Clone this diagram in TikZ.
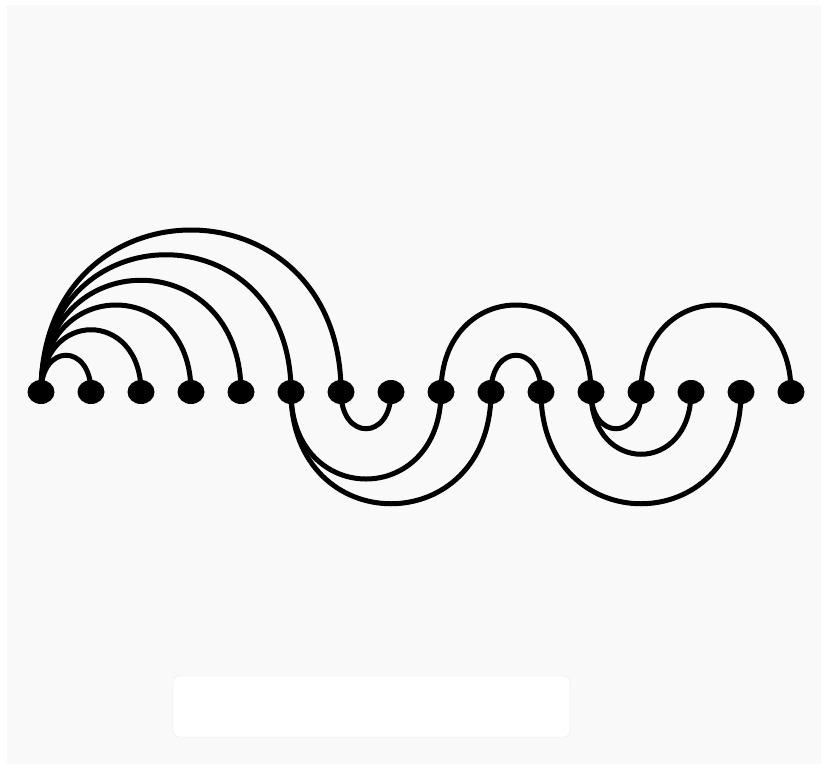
\documentclass[tikz,border=0pt]{standalone}
\usetikzlibrary{shapes.geometric}
\definecolor{paper}{RGB}{249,249,249}
\definecolor{boxline}{RGB}{232,232,232}
\begin{document}
\begin{tikzpicture}[
    x=1pt, y=-1pt,
    dot/.style={ellipse, fill=black, inner sep=0pt, minimum width=27pt, minimum height=24pt},
    link/.style={line width=5pt, black},
]
    % Canvas
    \useasboundingbox (0,0) rectangle (826,768);
    \fill[white] (0,0) rectangle (826,768);
    \fill[paper] (7,5) rectangle (821,764);
    \filldraw[fill=white, draw=boxline, rounded corners=6pt] (173,676) rectangle (570,737);

    % Vertices on the line
    \foreach \i in {1,...,16}
        \node[dot] (d\i) at ({41+50*(\i-1)},392) {};

    % Arcs above the line
    \draw[link] (d1.center) .. controls +(0,-49) and +(0,-49) .. (d2.center);
    \draw[link] (d1.center) .. controls +(0,-83) and +(0,-83) .. (d3.center);
    \draw[link] (d1.center) .. controls +(0,-116) and +(0,-116) .. (d4.center);
    \draw[link] (d1.center) .. controls +(0,-149) and +(0,-149) .. (d5.center);
    \draw[link] (d1.center) .. controls +(0,-183) and +(0,-183) .. (d6.center);
    \draw[link] (d1.center) .. controls +(0,-216) and +(0,-216) .. (d7.center);
    \draw[link] (d9.center) .. controls +(0,-116) and +(0,-116) .. (d12.center);
    \draw[link] (d10.center) .. controls +(0,-49) and +(0,-49) .. (d11.center);
    \draw[link] (d13.center) .. controls +(0,-116) and +(0,-116) .. (d16.center);

    % Arcs below the line
    \draw[link] (d7.center) .. controls +(0,49) and +(0,49) .. (d8.center);
    \draw[link] (d6.center) .. controls +(0,116) and +(0,116) .. (d9.center);
    \draw[link] (d6.center) .. controls +(0,149) and +(0,149) .. (d10.center);
    \draw[link] (d12.center) .. controls +(0,49) and +(0,49) .. (d13.center);
    \draw[link] (d12.center) .. controls +(0,83) and +(0,83) .. (d14.center);
    \draw[link] (d11.center) .. controls +(0,149) and +(0,149) .. (d15.center);
\end{tikzpicture}
\end{document}
